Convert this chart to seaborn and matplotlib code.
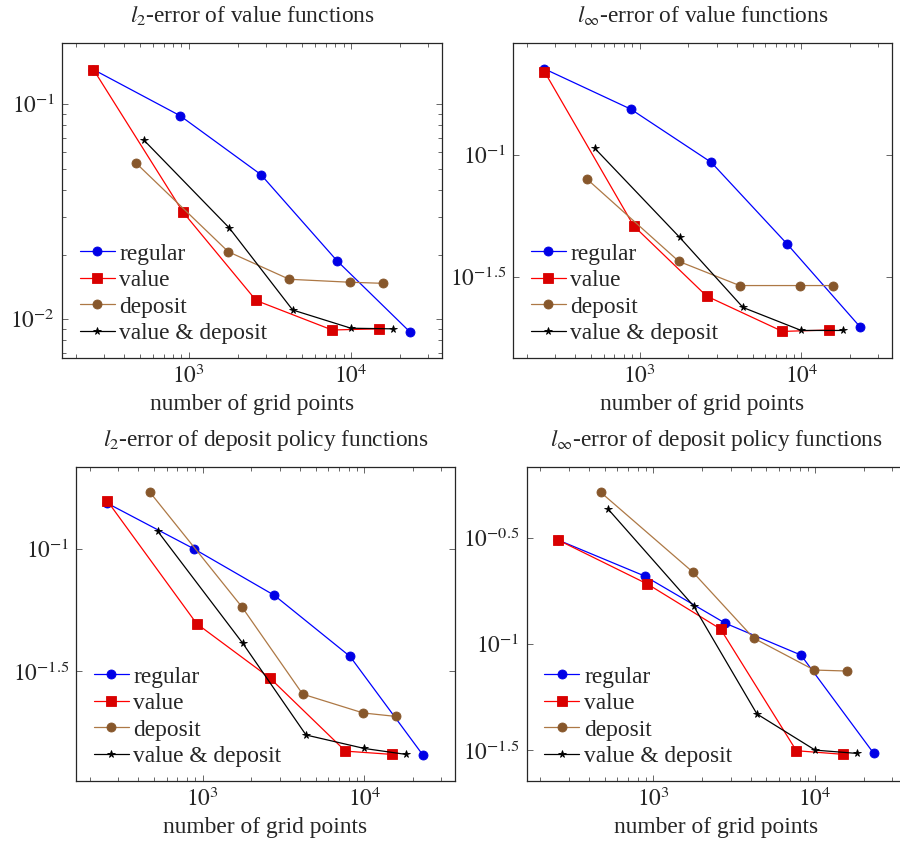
import numpy as np
import pandas as pd
import seaborn as sns
import matplotlib
matplotlib.use("Agg")
import matplotlib.pyplot as plt
from matplotlib.ticker import FixedLocator, FixedFormatter, NullFormatter, NullLocator, LogLocator

sns.set_style("ticks")
plt.rcParams["font.family"] = ["Liberation Serif", "DejaVu Serif"]
plt.rcParams["mathtext.fontset"] = "stix"

# number of grid points for each refinement strategy
x_regular = [258, 882, 2780, 8170, 23000]
x_value = [258, 920, 2600, 7650, 14800]
x_deposit = [473, 1750, 4160, 9860, 15700]
x_valdep = [527, 1774, 4365, 10000, 18070]

methods = ["regular", "value", "deposit", "value & deposit"]

# l2-error of value functions
l2v_regular = [0.145, 0.0885, 0.0471, 0.01875, 0.00875]
l2v_value = [0.145, 0.0315, 0.01222, 0.00891, 0.00902]
l2v_deposit = [0.0532, 0.0206, 0.01534, 0.01486, 0.01469]
l2v_valdep = [0.0682, 0.0266, 0.01104, 0.00908, 0.00902]

# linf-error of value functions
liv_regular = [0.2249, 0.1538, 0.0930, 0.0431, 0.01977]
liv_value = [0.2193, 0.0511, 0.02634, 0.01888, 0.01913]
liv_deposit = [0.0795, 0.03656, 0.0291, 0.0291, 0.0291]
liv_valdep = [0.1065, 0.0458, 0.02366, 0.01905, 0.01905]

# l2-error of deposit policy functions
l2d_regular = [0.1533, 0.1, 0.0645, 0.0363, 0.01439]
l2d_value = [0.1566, 0.0494, 0.0297, 0.0149, 0.01445]
l2d_deposit = [0.170, 0.0579, 0.02547, 0.02133, 0.02065]
l2d_valdep = [0.1181, 0.04106, 0.01734, 0.01528, 0.01445]

# linf-error of deposit policy functions
lid_regular = [0.3094, 0.2094, 0.1254, 0.0887, 0.0305]
lid_value = [0.3094, 0.1918, 0.1178, 0.0314, 0.0302]
lid_deposit = [0.5194, 0.2188, 0.1067, 0.0754, 0.0746]
lid_valdep = [0.4318, 0.1511, 0.0468, 0.0316, 0.0305]

titles = [
    r"$l_2$-error of value functions",
    r"$l_\infty$-error of value functions",
    r"$l_2$-error of deposit policy functions",
    r"$l_\infty$-error of deposit policy functions",
]

line_colors = {"regular": (0, 0, 1), "value": (1, 0, 0),
               "deposit": (0.68, 0.47, 0.27), "value & deposit": (0, 0, 0)}
face_colors = {"regular": (0, 0, 0.9), "value": (0.85, 0, 0),
               "deposit": (0.53, 0.34, 0.17), "value & deposit": (0, 0, 0)}
marker_map = {"regular": "o", "value": "s", "deposit": "o", "value & deposit": "*"}
marker_size = {"regular": 6.5, "value": 6.5, "deposit": 6.5, "value & deposit": 5.5}


def frame(regular, value, deposit, valdep):
    parts = []
    for name, xs, ys in zip(methods, [x_regular, x_value, x_deposit, x_valdep],
                            [regular, value, deposit, valdep]):
        parts.append(pd.DataFrame({"points": xs, "error": ys, "method": name}))
    return pd.concat(parts, ignore_index=True)


panels = [
    frame(l2v_regular, l2v_value, l2v_deposit, l2v_valdep),
    frame(liv_regular, liv_value, liv_deposit, liv_valdep),
    frame(l2d_regular, l2d_value, l2d_deposit, l2d_valdep),
    frame(lid_regular, lid_value, lid_deposit, lid_valdep),
]

W, H = 900, 841
boxes = [(62, 442, 43, 358), (513, 892, 43, 358),
         (76, 455, 466.7, 781), (526.7, 906, 466.7, 781)]
ylims = [(0.0066, 0.1928), (0.01469, 0.287), (0.01125, 0.2163), (0.0226, 0.686)]
yticks = [None, [-1.5, -1], [-1.5, -1], [-1.5, -1, -0.5]]

FS = 16.8
fig = plt.figure(figsize=(W / 100, H / 100), dpi=100)

for i, df in enumerate(panels):
    x0, x1, y0, y1 = boxes[i]
    ax = fig.add_axes([x0 / W, 1 - y1 / H, (x1 - x0) / W, (y1 - y0) / H])
    for name in methods:
        sub = df[df["method"] == name]
        sns.lineplot(data=sub, x="points", y="error", ax=ax, sort=False,
                     color=line_colors[name], marker=marker_map[name],
                     markersize=marker_size[name], linewidth=0.9,
                     markerfacecolor=face_colors[name],
                     markeredgecolor=face_colors[name], markeredgewidth=0.6,
                     label=name)
    ax.set_xscale("log")
    ax.set_yscale("log")
    ax.set_xlim(165, 36400)
    ax.set_ylim(*ylims[i])
    ax.set_xticks([1e3, 1e4])
    ax.set_xticklabels([r"$10^{3}$", r"$10^{4}$"])
    ax.xaxis.set_minor_locator(LogLocator(base=10, subs=np.arange(2, 10)))
    ax.xaxis.set_minor_formatter(NullFormatter())
    if yticks[i] is None:
        ax.yaxis.set_major_locator(FixedLocator([1e-2, 1e-1]))
        ax.yaxis.set_major_formatter(FixedFormatter([r"$10^{-2}$", r"$10^{-1}$"]))
        ax.yaxis.set_minor_locator(LogLocator(base=10, subs=np.arange(2, 10)))
    else:
        vals = [10 ** e for e in yticks[i]]
        labs = [r"$10^{%g}$" % e for e in yticks[i]]
        ax.yaxis.set_major_locator(FixedLocator(vals))
        ax.yaxis.set_major_formatter(FixedFormatter(labs))
        ax.yaxis.set_minor_locator(NullLocator())
    ax.yaxis.set_minor_formatter(NullFormatter())
    ax.tick_params(which="both", direction="in", top=True, right=True,
                   color="0.4", width=0.7, labelsize=FS, pad=5)
    ax.tick_params(which="major", length=4.5)
    ax.tick_params(which="minor", length=3)
    for sp in ax.spines.values():
        sp.set_linewidth(0.9)
        sp.set_color("0.15")
    ax.set_xlabel("number of grid points", fontsize=FS, labelpad=4)
    ax.set_ylabel("")
    ax.set_title(titles[i], fontsize=FS, pad=15)
    handles, labels = ax.get_legend_handles_labels()
    ax.legend(handles, labels, loc="lower left", bbox_to_anchor=(0.01, 0.0),
              frameon=False, fontsize=FS, handlelength=1.5, handletextpad=0.2,
              labelspacing=0.22, borderaxespad=0.3, borderpad=0.3)

fig.savefig("out.png", dpi=100)
